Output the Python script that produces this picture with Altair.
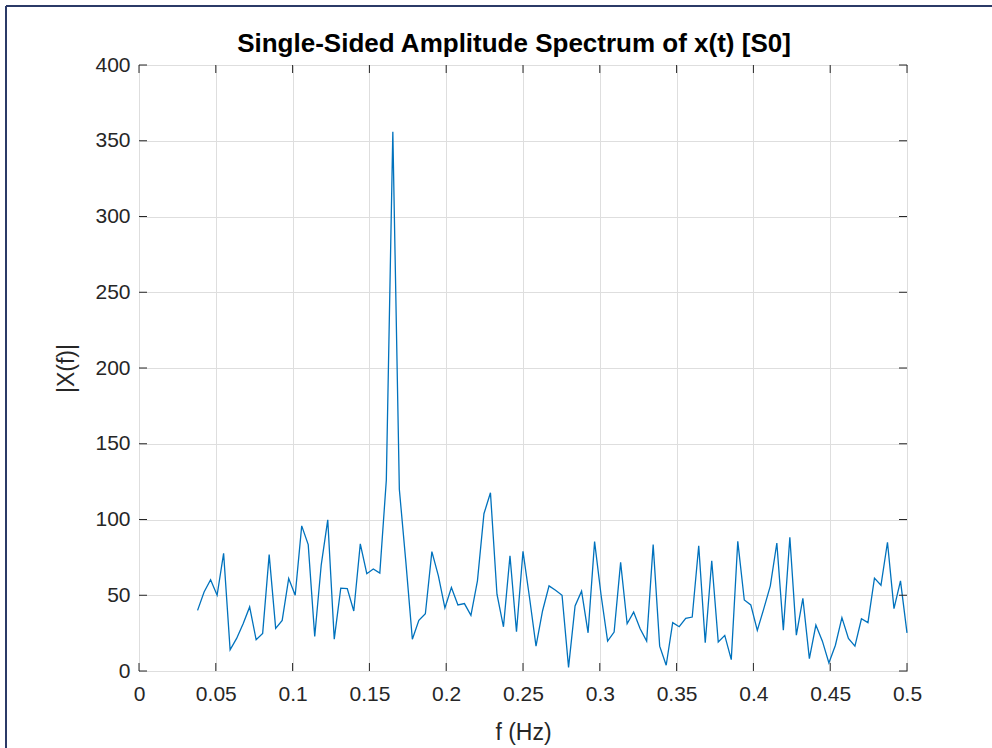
import altair as alt
import pandas as pd

# FFT bins k/236 for k = 9..118
bin_index = list(range(9, 119))
n_fft = 236
amplitude = [
    40.0, 52.2, 60.2, 50.0, 77.7, 14.0, 21.5, 31.2, 42.3, 20.6,
    24.8, 76.8, 28.1, 33.4, 61.1, 50.0, 95.8, 83.4, 22.8, 70.1,
    99.8, 21.0, 54.7, 54.4, 39.6, 83.9, 64.2, 67.3, 64.6, 126.0,
    356.0, 120.0, 72.0, 21.0, 33.4, 37.8, 78.8, 62.8, 41.6, 55.1,
    43.6, 44.5, 36.7, 59.5, 103.8, 117.7, 50.7, 29.2, 76.1, 25.9,
    79.0, 48.5, 16.4, 39.6, 56.2, 53.3, 50.0, 2.4, 42.9, 52.7,
    25.2, 85.4, 50.0, 19.7, 25.7, 71.7, 31.2, 38.9, 27.9, 19.7,
    83.4, 16.4, 3.8, 31.9, 29.2, 34.7, 35.6, 82.7, 18.6, 72.8,
    19.1, 23.5, 7.5, 85.6, 46.9, 43.6, 26.8, 41.2, 56.2, 84.5,
    27.0, 88.3, 23.7, 48.0, 8.2, 30.3, 19.7, 5.3, 17.0, 35.2,
    21.5, 16.4, 34.5, 31.9, 61.3, 56.6, 85.0, 41.2, 59.5, 25.2,
]
x_ticks = [0, 0.05, 0.1, 0.15, 0.2, 0.25, 0.3, 0.35, 0.4, 0.45, 0.5]
y_ticks = [0, 50, 100, 150, 200, 250, 300, 350, 400]
title_text = "Single-Sided Amplitude Spectrum of x(t) [S0]"
x_label = "f (Hz)"
y_label = "|X(f)|"

W, H = 768, 606
FONT = "Liberation Sans"
AX = "#262626"

df = pd.DataFrame({"f": [k / n_fft for k in bin_index], "amp": amplitude})
xt = pd.DataFrame({"f": x_ticks})
yt = pd.DataFrame({"amp": y_ticks})

xs = alt.Scale(domain=[0, 0.5], nice=False, zero=False)
ys = alt.Scale(domain=[0, 400], nice=False)

x_axis = alt.Axis(
    values=x_ticks, format="~g", title=x_label, grid=True,
    domain=False, ticks=False, labelPadding=12, labelFontSize=21,
    labelFlush=False, labelOverlap=False,
    labelColor=AX, labelFont=FONT, titleFont=FONT, titleFontSize=23,
    titleFontWeight="normal", titleColor=AX, titlePadding=17)
y_axis = alt.Axis(
    values=y_ticks, format="d", title=y_label, grid=True,
    domain=False, ticks=False, labelPadding=9, labelFontSize=21,
    labelFlush=False, labelOverlap=False,
    labelColor=AX, labelFont=FONT, titleFont=FONT, titleFontSize=23,
    titleFontWeight="normal", titleColor=AX, titlePadding=16)

X = alt.X("f:Q", scale=xs, axis=x_axis)
Y = alt.Y("amp:Q", scale=ys, axis=y_axis)

line = alt.Chart(df).mark_line(color="#0072BD", strokeWidth=1.3).encode(x=X, y=Y)

tl = 8
bottom_ticks = alt.Chart(xt).mark_rule(color=AX, strokeWidth=1).encode(
    x=X, y=alt.value(H), y2=alt.value(H - tl))
top_ticks = alt.Chart(xt).mark_rule(color=AX, strokeWidth=1).encode(
    x=X, y=alt.value(0), y2=alt.value(tl))
left_ticks = alt.Chart(yt).mark_rule(color=AX, strokeWidth=1).encode(
    y=Y, x=alt.value(0), x2=alt.value(tl))
right_ticks = alt.Chart(yt).mark_rule(color=AX, strokeWidth=1).encode(
    y=Y, x=alt.value(W), x2=alt.value(W - tl))

title = alt.Chart(pd.DataFrame({"t": [title_text]})).mark_text(
    font=FONT, fontSize=26, fontWeight="bold", color="#000000",
    align="center", baseline="alphabetic").encode(
    text="t:N", x=alt.value(375), y=alt.value(-13))

frame_top = alt.Chart(pd.DataFrame({"a": [0]})).mark_rule(
    color="#2b3a67", strokeWidth=2).encode(
    x=alt.value(-133), x2=alt.value(992 - 139), y=alt.value(-59))
frame_left = alt.Chart(pd.DataFrame({"a": [0]})).mark_rule(
    color="#2b3a67", strokeWidth=2).encode(
    x=alt.value(-133), y=alt.value(-59), y2=alt.value(748 - 65))

chart = alt.layer(
    line, bottom_ticks, top_ticks, left_ticks, right_ticks, title,
    frame_top, frame_left,
).properties(
    width=W, height=H,
    autosize=alt.AutoSizeParams(type="none"),
    padding={"left": 139, "top": 65, "right": 85, "bottom": 77},
    background="white",
).configure_view(
    stroke=AX, strokeWidth=1,
).configure_axis(
    gridColor="#dedede", gridWidth=1,
)

chart.save("out.html", embed_options={"renderer": "svg", "actions": False})
